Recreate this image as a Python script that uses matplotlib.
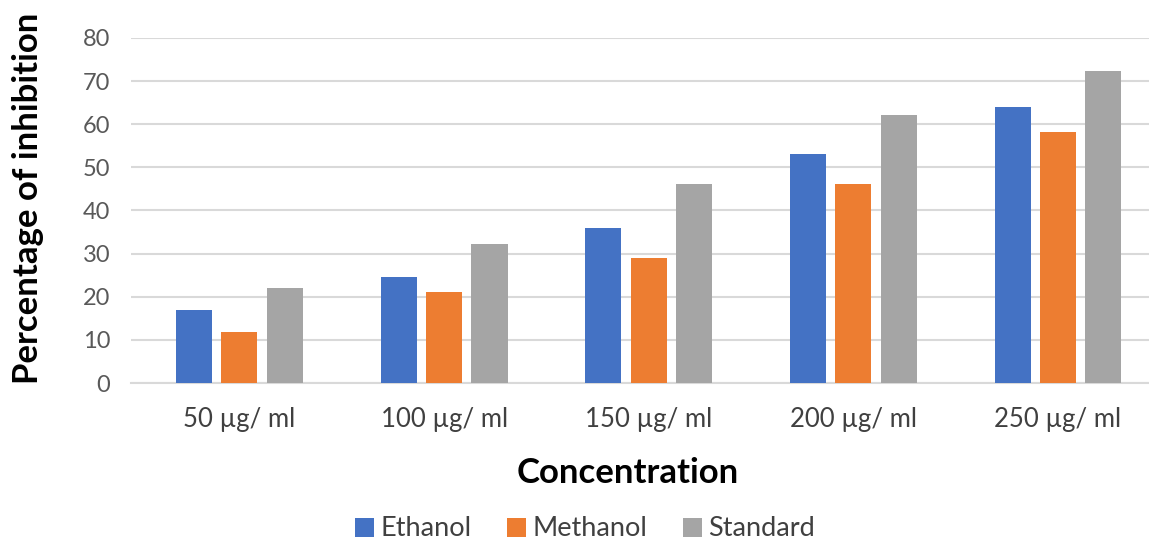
import numpy as np
import matplotlib.pyplot as plt

plt.rcParams['font.family'] = ['Lato', 'DejaVu Sans']

categories = ['50 µg/ ml', '100 µg/ ml', '150 µg/ ml', '200 µg/ ml', '250 µg/ ml']
ethanol = [16.9, 24.5, 35.9, 53.2, 63.9]
methanol = [11.8, 21.0, 29.0, 46.2, 58.3]
standard = [22.1, 32.2, 46.2, 62.1, 72.3]
series_names = ['Ethanol', 'Methanol', 'Standard']
colors = ['#4472C4', '#ED7D31', '#A5A5A5']

fig = plt.figure(figsize=(11.49, 5.42), dpi=100)
ax = fig.add_axes([131/1149, (542-383)/542, 1 - 131/1149, (383-38)/542])

x = np.arange(len(categories))
w = 0.176
step = 0.222
for k, (vals, name, c) in enumerate(zip([ethanol, methanol, standard], series_names, colors)):
    ax.bar(x + (k-1)*step, vals, w, color=c, label=name, zorder=3)

ax.set_ylim(0, 80)
ax.set_xlim(-0.53, 4.445)
ax.set_yticks(range(0, 81, 10))
ax.set_xticks(x)
ax.set_xticklabels(categories)
ax.yaxis.grid(True, color='#d9d9d9', lw=1.5, zorder=0)
for s in ['top', 'right', 'left']:
    ax.spines[s].set_visible(False)
ax.spines['bottom'].set_color('#d9d9d9')
ax.spines['bottom'].set_linewidth(1.5)
ax.tick_params(axis='y', length=0, pad=15, labelsize=17, labelcolor='#595959')
ax.tick_params(axis='x', length=0, pad=17, labelsize=18.5, labelcolor='#404040')

fig.text(628/1149, 1 - 473/542, 'Concentration', ha='center', va='center',
         fontsize=25, fontweight='bold', color='black')
fig.text(28/1149, 1 - 198/542, 'Percentage of inhibition', ha='center', va='center',
         rotation=90, fontsize=25, fontweight='bold', color='black')

fig.legend(loc='center', bbox_to_anchor=(585/1149, 1 - 529/542), ncol=3, frameon=False,
           fontsize=19.5, handlelength=0.7, handleheight=0.7, handletextpad=0.25,
           columnspacing=1.3, labelcolor='#404040')

fig.savefig('out.png', dpi=100)
